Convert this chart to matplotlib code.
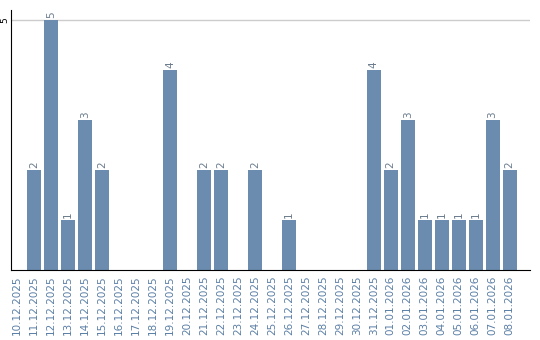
import matplotlib
matplotlib.use("Agg")
import matplotlib.pyplot as plt

dates = ["10.12.2025", "11.12.2025", "12.12.2025", "13.12.2025", "14.12.2025",
         "15.12.2025", "16.12.2025", "17.12.2025", "18.12.2025", "19.12.2025",
         "20.12.2025", "21.12.2025", "22.12.2025", "23.12.2025", "24.12.2025",
         "25.12.2025", "26.12.2025", "27.12.2025", "28.12.2025", "29.12.2025",
         "30.12.2025", "31.12.2025", "01.01.2026", "02.01.2026", "03.01.2026",
         "04.01.2026", "05.01.2026", "06.01.2026", "07.01.2026", "08.01.2026"]
counts = [0, 2, 5, 1, 3, 2, 0, 0, 0, 4,
          0, 2, 2, 0, 2, 0, 1, 0, 0, 0,
          0, 4, 2, 3, 1, 1, 1, 1, 3, 2]

bar_color = "#6b8cae"
label_color = "#5b7fa6"

fig = plt.figure(figsize=(5.4, 3.4), dpi=100)
ax = fig.add_axes([11 / 540, 70 / 340, 519 / 540, 260 / 340])

x = list(range(len(dates)))
bars = ax.bar(x, counts, width=0.82, color=bar_color, zorder=2)
for xi, v in zip(x, counts):
    if v > 0:
        ax.text(xi, v + 0.05, str(v), rotation=90, ha="center", va="bottom",
                fontsize=7.5, color="#6b7c8e")

ax.set_xlim(-0.36, 30.2)
ax.set_ylim(0, 5.2)
ax.set_yticks([5])
ax.set_yticklabels(["5"], rotation=90, va="center", fontsize=6.5)
ax.axhline(5, color="#cccccc", linewidth=1, zorder=1)
ax.set_xticks(x)
ax.set_xticklabels(dates, rotation=90, fontsize=7.5, color=label_color)
ax.tick_params(axis="x", length=0, pad=4)
ax.tick_params(axis="y", length=0, pad=1)
for s in ["top", "right"]:
    ax.spines[s].set_visible(False)
ax.spines["left"].set_color("black")
ax.spines["bottom"].set_color("black")

fig.savefig("out.png", dpi=100)
